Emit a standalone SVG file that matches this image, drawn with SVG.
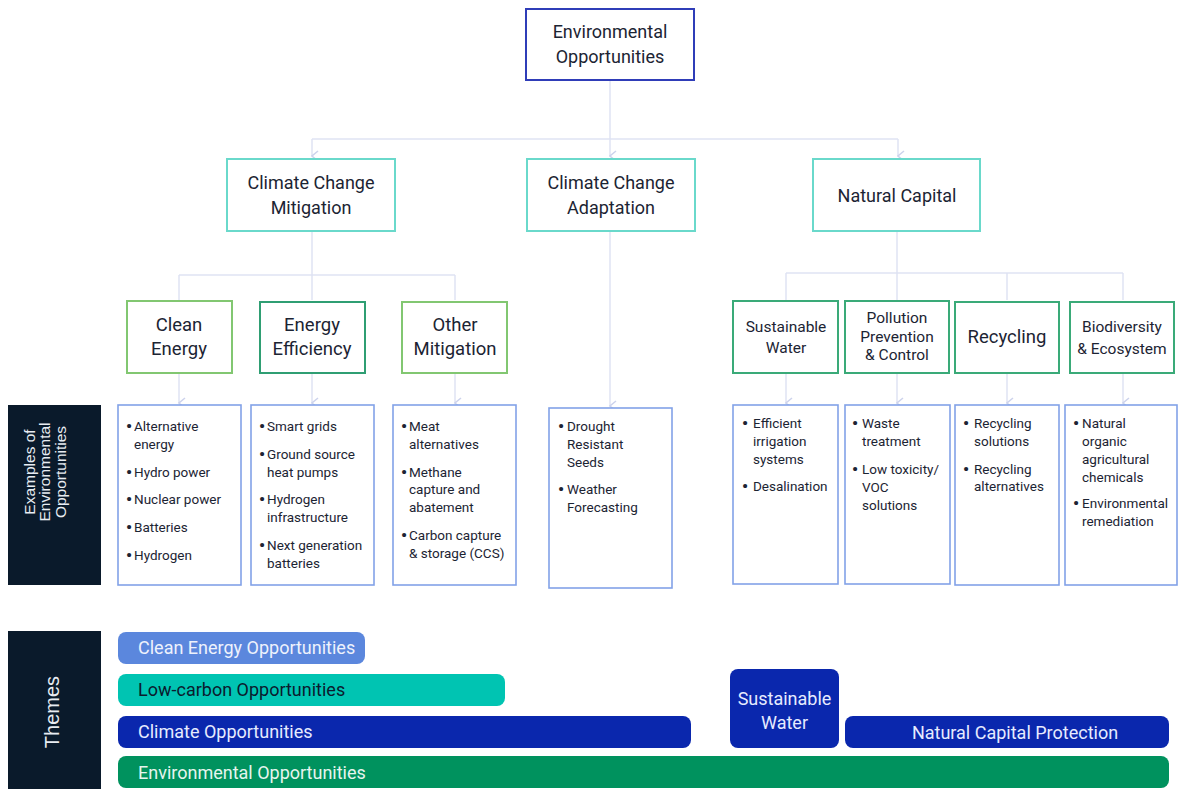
<svg xmlns="http://www.w3.org/2000/svg" width="1178" height="789" viewBox="0 0 1178 789">
<defs>
<marker id="arr" viewBox="0 0 12 8" refX="6" refY="7" markerWidth="12" markerHeight="8" markerUnits="userSpaceOnUse" orient="auto-start-reverse">
<path d="M1,1 L6,7 L11,1" fill="none" stroke="#cdd3ec" stroke-width="1.5"/>
</marker>
<style>
.t{font-family:Roboto,"Liberation Sans",sans-serif;fill:#1c2433;text-anchor:middle}
.l2{font-size:18px}
.l3{font-size:18.5px}
.l3s{font-size:15.5px}
.ex{font-family:Roboto,"Liberation Sans",sans-serif;font-size:13.5px;fill:#1c2433}
.bu{font-size:17px;font-weight:bold}
.box{fill:#fff;stroke-width:2}
.top{stroke:#2f3db8}
.b2{stroke:#6ad9cb}
.g1{stroke:#82c771}
.g2{stroke:#2f9e73}
.g3{stroke:#3aaa78}
.exb{fill:#fff;stroke:#82a2e8;stroke-width:1.6}
.side{fill:#0a1a2b}
.sidet{font-family:"Liberation Sans",Arial,sans-serif;fill:#e8ecf2;text-anchor:middle}
.bar{font-family:Roboto,"Liberation Sans",sans-serif;font-size:18px}
.con{fill:none;stroke:#dfe3f3;stroke-width:1.5}
</style>
</defs>

<g id="connectors">
<path class="con" d="M610,80 V139 M312,139 H898"/>
<path class="con" d="M312,139 V156" marker-end="url(#arr)"/>
<path class="con" d="M610,139 V156" marker-end="url(#arr)"/>
<path class="con" d="M898,139 V156" marker-end="url(#arr)"/>
<path class="con" d="M312,231 V300 M179,275 H455 M179,275 V300 M455,275 V300"/>
<path class="con" d="M179,373 V403" marker-end="url(#arr)"/>
<path class="con" d="M312,373 V403" marker-end="url(#arr)"/>
<path class="con" d="M455,373 V403" marker-end="url(#arr)"/>
<path class="con" d="M610,231 V406" marker-end="url(#arr)"/>
<path class="con" d="M897,231 V300 M786,273 H1123 M786,273 V300 M1007,273 V300 M1123,273 V300"/>
<path class="con" d="M786,373 V403" marker-end="url(#arr)"/>
<path class="con" d="M897,373 V403" marker-end="url(#arr)"/>
<path class="con" d="M1007,373 V403" marker-end="url(#arr)"/>
<path class="con" d="M1123,373 V403" marker-end="url(#arr)"/>
</g>

<g id="env-opp">
<rect class="box top" x="526" y="9" width="168" height="71"/>
<text class="t l2" x="610" y="38">Environmental</text>
<text class="t l2" x="610" y="63">Opportunities</text>
</g>

<g id="ccm">
<rect class="box b2" x="227" y="159" width="168" height="72"/>
<text class="t l2" x="311" y="189">Climate Change</text>
<text class="t l2" x="311" y="214">Mitigation</text>
</g>
<g id="cca">
<rect class="box b2" x="527" y="159" width="168" height="72"/>
<text class="t l2" x="611" y="189">Climate Change</text>
<text class="t l2" x="611" y="214">Adaptation</text>
</g>
<g id="nc">
<rect class="box b2" x="813" y="159" width="167" height="72"/>
<text class="t l2" x="897" y="202">Natural Capital</text>
</g>

<g id="clean-energy">
<rect class="box g1" x="127" y="301" width="105" height="72"/>
<text class="t l3" x="179" y="331">Clean</text>
<text class="t l3" x="179" y="355">Energy</text>
</g>
<g id="energy-efficiency">
<rect class="box g2" x="260" y="302" width="105" height="71"/>
<text class="t l3" x="312" y="331">Energy</text>
<text class="t l3" x="312" y="355">Efficiency</text>
</g>
<g id="other-mitigation">
<rect class="box g1" x="402" y="302" width="105" height="71"/>
<text class="t l3" x="455" y="331">Other</text>
<text class="t l3" x="455" y="355">Mitigation</text>
</g>
<g id="sustainable-water">
<rect class="box g3" x="733" y="301" width="105" height="72"/>
<text class="t l3s" x="786" y="332">Sustainable</text>
<text class="t l3s" x="786" y="353">Water</text>
</g>
<g id="pollution">
<rect class="box g3" x="845" y="301" width="104" height="72"/>
<text class="t l3s" x="897" y="323">Pollution</text>
<text class="t l3s" x="897" y="342">Prevention</text>
<text class="t l3s" x="897" y="360">&amp; Control</text>
</g>
<g id="recycling">
<rect class="box g3" x="955" y="302" width="104" height="71"/>
<text class="t l3" x="1007" y="343">Recycling</text>
</g>
<g id="biodiversity">
<rect class="box g3" x="1070" y="302" width="104" height="71"/>
<text class="t l3s" x="1122" y="332">Biodiversity</text>
<text class="t l3s" x="1122" y="354">&amp; Ecosystem</text>
</g>

<g id="examples-label">
<rect class="side" x="8" y="405" width="93" height="180"/>
<g transform="translate(0,472) rotate(-90)">
<text class="sidet" x="0" y="35" font-size="15.5">Examples of</text>
<text class="sidet" x="0" y="50" font-size="15.5">Environmental</text>
<text class="sidet" x="0" y="66" font-size="15.5">Opportunities</text>
</g>
</g>

<g id="ex-clean-energy">
<rect class="exb" x="118" y="405" width="123" height="180"/>
<text class="ex"><tspan class="bu" x="126" y="432">•</tspan><tspan x="134" y="431">Alternative</tspan><tspan x="134" y="449">energy</tspan><tspan class="bu" x="126" y="478">•</tspan><tspan x="134" y="477">Hydro power</tspan><tspan class="bu" x="126" y="505">•</tspan><tspan x="134" y="504">Nuclear power</tspan><tspan class="bu" x="126" y="533">•</tspan><tspan x="134" y="532">Batteries</tspan><tspan class="bu" x="126" y="561">•</tspan><tspan x="134" y="560">Hydrogen</tspan></text>
</g>
<g id="ex-energy-efficiency">
<rect class="exb" x="251" y="405" width="123" height="180"/>
<text class="ex"><tspan class="bu" x="259" y="432">•</tspan><tspan x="267" y="431">Smart grids</tspan><tspan class="bu" x="259" y="460">•</tspan><tspan x="267" y="459">Ground source</tspan><tspan x="267" y="477">heat pumps</tspan><tspan class="bu" x="259" y="505">•</tspan><tspan x="267" y="504">Hydrogen</tspan><tspan x="267" y="522">infrastructure</tspan><tspan class="bu" x="259" y="551">•</tspan><tspan x="267" y="550">Next generation</tspan><tspan x="267" y="568">batteries</tspan></text>
</g>
<g id="ex-other-mitigation">
<rect class="exb" x="393" y="405" width="123" height="180"/>
<text class="ex"><tspan class="bu" x="401" y="432">•</tspan><tspan x="409" y="431">Meat</tspan><tspan x="409" y="449">alternatives</tspan><tspan class="bu" x="401" y="478">•</tspan><tspan x="409" y="477">Methane</tspan><tspan x="409" y="494">capture and</tspan><tspan x="409" y="512">abatement</tspan><tspan class="bu" x="401" y="541">•</tspan><tspan x="409" y="540">Carbon capture</tspan><tspan x="409" y="558">&amp; storage (CCS)</tspan></text>
</g>
<g id="ex-adaptation">
<rect class="exb" x="549" y="408" width="123" height="180"/>
<text class="ex"><tspan class="bu" x="558" y="432">•</tspan><tspan x="567" y="431">Drought</tspan><tspan x="567" y="449">Resistant</tspan><tspan x="567" y="467">Seeds</tspan><tspan class="bu" x="558" y="495">•</tspan><tspan x="567" y="494">Weather</tspan><tspan x="567" y="512">Forecasting</tspan></text>
</g>
<g id="ex-sustainable-water">
<rect class="exb" x="733" y="405" width="105" height="179"/>
<text class="ex"><tspan class="bu" x="742" y="429">•</tspan><tspan x="753" y="428">Efficient</tspan><tspan x="753" y="446">irrigation</tspan><tspan x="753" y="464">systems</tspan><tspan class="bu" x="742" y="492">•</tspan><tspan x="753" y="491">Desalination</tspan></text>
</g>
<g id="ex-pollution">
<rect class="exb" x="845" y="405" width="105" height="179"/>
<text class="ex"><tspan class="bu" x="852" y="429">•</tspan><tspan x="862" y="428">Waste</tspan><tspan x="862" y="446">treatment</tspan><tspan class="bu" x="852" y="475">•</tspan><tspan x="862" y="474">Low toxicity/</tspan><tspan x="862" y="492">VOC</tspan><tspan x="862" y="510">solutions</tspan></text>
</g>
<g id="ex-recycling">
<rect class="exb" x="955" y="405" width="104" height="180"/>
<text class="ex"><tspan class="bu" x="963" y="429">•</tspan><tspan x="974" y="428">Recycling</tspan><tspan x="974" y="446">solutions</tspan><tspan class="bu" x="963" y="475">•</tspan><tspan x="974" y="474">Recycling</tspan><tspan x="974" y="491">alternatives</tspan></text>
</g>
<g id="ex-biodiversity">
<rect class="exb" x="1065" y="405" width="112" height="180"/>
<text class="ex"><tspan class="bu" x="1073" y="429">•</tspan><tspan x="1082" y="428">Natural</tspan><tspan x="1082" y="446">organic</tspan><tspan x="1082" y="464">agricultural</tspan><tspan x="1082" y="482">chemicals</tspan><tspan class="bu" x="1073" y="509">•</tspan><tspan x="1082" y="508">Environmental</tspan><tspan x="1082" y="526">remediation</tspan></text>
</g>

<g id="themes-label">
<rect class="side" x="8" y="631" width="93" height="158"/>
<text class="sidet" transform="translate(59,712) rotate(-90)" x="0" y="0" font-size="20">Themes</text>
</g>

<g id="theme-clean-energy">
<rect x="118" y="632" width="247" height="32" rx="8" fill="#5b87dd"/>
<text class="bar" x="138" y="654" fill="#eef2fc">Clean Energy Opportunities</text>
</g>
<g id="theme-low-carbon">
<rect x="118" y="674" width="387" height="32" rx="8" fill="#00c4b2"/>
<text class="bar" x="138" y="696" fill="#0b1b2e">Low-carbon Opportunities</text>
</g>
<g id="theme-climate">
<rect x="118" y="716" width="573" height="32" rx="8" fill="#0a27ad"/>
<text class="bar" x="138" y="738" fill="#e6ebff">Climate Opportunities</text>
</g>
<g id="theme-sustainable-water">
<rect x="730" y="669" width="109" height="79" rx="8" fill="#0a27ad"/>
<text class="bar" x="784.5" y="705" fill="#e6ebff" text-anchor="middle" font-size="17">Sustainable</text>
<text class="bar" x="784.5" y="729" fill="#e6ebff" text-anchor="middle" font-size="17">Water</text>
</g>
<g id="theme-natural-capital">
<rect x="845" y="716" width="324" height="32" rx="8" fill="#0a27ad"/>
<text class="bar" x="1015" y="739" fill="#e6ebff" text-anchor="middle">Natural Capital Protection</text>
</g>
<g id="theme-environmental">
<rect x="118" y="756" width="1051" height="32" rx="8" fill="#00925e"/>
<text class="bar" x="138" y="779" fill="#e6f5ee">Environmental Opportunities</text>
</g>
</svg>
